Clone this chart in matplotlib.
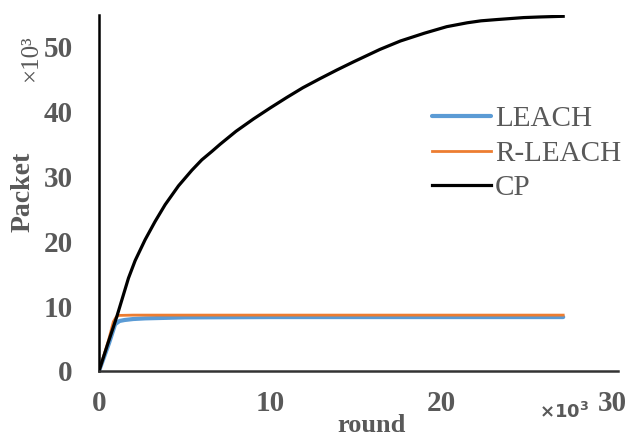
import matplotlib
matplotlib.use("Agg")
import matplotlib.pyplot as plt

# --- Daten (Runden und Pakete jeweils in Tausend) ---
cp_round = [0, 0.5, 1.03, 1.72, 2.11, 2.69, 3.27, 3.86, 4.64, 5.42, 6.0, 6.59,
            7.07, 8.0, 9.02, 10.0, 10.96, 11.9, 12.9, 13.9, 14.87, 16.4, 17.6,
            19.0, 20.3, 21.5, 22.3, 23.25, 24.8, 25.8, 27.1]
cp_packet = [0, 4.1, 8.3, 14.3, 17.0, 20.2, 23.0, 25.6, 28.5, 30.9, 32.5, 33.8,
             34.9, 36.9, 38.8, 40.5, 42.1, 43.6, 45.0, 46.35, 47.6, 49.5, 50.8,
             52.0, 53.0, 53.6, 53.9, 54.1, 54.4, 54.5, 54.6]

leach_round = [0, 0.58, 0.94, 1.2, 1.5, 2.0, 2.7, 5.0, 10.0, 20.0, 27.1]
leach_packet = [0, 4.26, 7.2, 7.7, 7.85, 8.0, 8.1, 8.25, 8.3, 8.3, 8.3]

rleach_round = [0, 0.55, 0.84, 1.0, 1.13, 2.0, 10.0, 20.0, 27.1]
rleach_packet = [0, 4.7, 7.6, 8.3, 8.55, 8.6, 8.6, 8.6, 8.6]

x_ticks = [0, 10, 20, 30]
y_ticks = [0, 10, 20, 30, 40, 50]

grau = "#595959"
serif = ["Liberation Serif", "DejaVu Serif"]

fig = plt.figure(figsize=(6.36, 4.38), dpi=100)
ax = fig.add_axes([0.1557, 0.153, 0.8160, 0.8128])

ax.plot(leach_round, leach_packet, color="#5B9BD5", linewidth=3.0, label="LEACH",
        solid_capstyle="round", solid_joinstyle="round")
ax.plot(rleach_round, rleach_packet, color="#ED7D31", linewidth=2.0, label="R-LEACH",
        solid_joinstyle="round")
ax.plot(cp_round, cp_packet, color="black", linewidth=2.3, label="CP",
        solid_joinstyle="round")

ax.set_xlim(0, 30.3)
ax.set_ylim(0, 54.8)
ax.set_xticks(x_ticks)
ax.set_yticks(y_ticks)
ax.tick_params(length=0)
ax.tick_params(axis="x", pad=14)
ax.tick_params(axis="y", pad=19)
for lbl in ax.get_xticklabels() + ax.get_yticklabels():
    lbl.set_fontfamily(serif)
    lbl.set_fontsize(21)
    lbl.set_fontweight("bold")
    lbl.set_color(grau)

for s in ["top", "right"]:
    ax.spines[s].set_visible(False)
ax.spines["left"].set_linewidth(1.8)
ax.spines["left"].set_color("black")
ax.spines["bottom"].set_linewidth(1.8)
ax.spines["bottom"].set_color("#333333")

# Achsentitel
fig.text(23 / 636, 1 - 192 / 438, "Packet", rotation=90, ha="center", va="center",
         fontsize=20, fontweight="bold", color=grau, family=serif)
fig.text(372 / 636, 1 - 425 / 438, "round", ha="center", va="center",
         fontsize=19, fontweight="bold", color=grau, family=serif)
fig.text(31 / 636, 1 - 59 / 438, "×10³", rotation=90, ha="center", va="center",
         fontsize=18, color=grau, family=serif)
fig.text(564 / 636, 1 - 412 / 438, r"$\mathbf{\times10^3}$", ha="center", va="center",
         fontsize=13, color=grau)

leg = ax.legend(loc="upper left", bbox_to_anchor=(0.642, 0.745), frameon=False,
                handlelength=2.0, handletextpad=0.15, labelspacing=0.28,
                borderpad=0, borderaxespad=0,
                prop={"family": serif, "size": 21})
for t in leg.get_texts():
    t.set_color(grau)

fig.savefig("out.png", dpi=100)
